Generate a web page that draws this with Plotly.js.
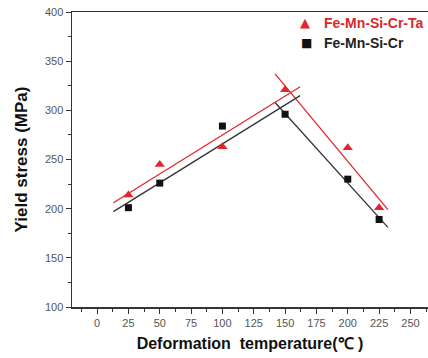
<!DOCTYPE html>
<html><head><meta charset="utf-8">
<script src="https://cdn.plot.ly/plotly-3.0.1.min.js"></script>
<style>html,body{margin:0;padding:0;background:#fff;}#chart{width:428px;height:358px;}</style>
</head><body><div id="chart"></div>
<script>
// Data
const temps = [25, 50, 100, 150, 200, 225];
const yieldTa = [214, 245, 263, 321, 262, 201];   // Fe-Mn-Si-Cr-Ta
const yieldCr = [201, 226, 284, 296, 230, 189];   // Fe-Mn-Si-Cr
// Fit line endpoints
const fitTaUpX = [13, 162],   fitTaUpY = [206, 324];
const fitTaDownX = [142, 232], fitTaDownY = [337, 199];
const fitCrUpX = [13, 162],   fitCrUpY = [197, 315];
const fitCrDownX = [142, 232], fitCrDownY = [308, 181];
const xTicks = [0, 25, 50, 75, 100, 125, 150, 175, 200, 225, 250];
const yTicks = [100, 150, 200, 250, 300, 350, 400];
const seriesNames = ['Fe-Mn-Si-Cr-Ta', 'Fe-Mn-Si-Cr'];

const RED = '#e3262b', BLK = '#111111';
const lineTrace = (x, y, c) => ({x, y, type:'scatter', mode:'lines', line:{color:c, width:1.3}, showlegend:false, hoverinfo:'skip'});
const data = [
  lineTrace(fitTaUpX, fitTaUpY, RED),
  lineTrace(fitTaDownX, fitTaDownY, RED),
  lineTrace(fitCrUpX, fitCrUpY, '#333'),
  lineTrace(fitCrDownX, fitCrDownY, '#333'),
  {x: temps, y: yieldTa, type:'scatter', mode:'markers', name:seriesNames[0], showlegend:false,
   marker:{symbol:'triangle-up', size:9, color:RED}},
  {x: temps, y: yieldCr, type:'scatter', mode:'markers', name:seriesNames[1], showlegend:false,
   marker:{symbol:'square', size:7, color:BLK}}
];
const legendAnn = (txt, x, y, color, size, fam) => ({text:txt, xref:'paper', yref:'paper', x, y,
  xanchor:'left', yanchor:'middle', showarrow:false, font:{size, color, family:fam}});
const W = 356, H = 295; // plot area size in px (for paper coords)
const px = v => (v - 72) / W, py = v => (307 - v) / H;
const layout = {
  width:428, height:358,
  margin:{l:72, r:0, t:12, b:51},
  paper_bgcolor:'#fff', plot_bgcolor:'#fff',
  font:{family:'Arial, "Liberation Sans", sans-serif', color:'#555', size:11},
  showlegend:false,
  annotations:[
    legendAnn('▲', px(298), py(22.5), RED, 13, 'DejaVu Sans'),
    legendAnn('■', px(299), py(42.5), BLK, 12, 'DejaVu Sans'),
    legendAnn('<b>' + seriesNames[0] + '</b>', px(322), py(22.5), '#d8282c', 14, 'Arial, "Liberation Sans"'),
    legendAnn('<b>' + seriesNames[1] + '</b>', px(322), py(42.5), '#222', 14, 'Arial, "Liberation Sans"')
  ],
  xaxis:{range:[-20, 264], tickvals:xTicks, ticktext:xTicks.map(String), showgrid:false, zeroline:false,
         showline:true, linecolor:'#333', linewidth:1.5, mirror:true,
         ticks:'outside', ticklen:5, tickcolor:'#333', tickwidth:1,
         minor:{dtick:12.5, tick0:0, ticks:'outside', ticklen:3, tickcolor:'#333'},
         tickfont:{size:11, color:'#555'},
         title:{text:'<b>Deformation\u00a0\u00a0temperature(℃\u00a0)</b>', font:{size:16, color:'#111'}, standoff:10}},
  yaxis:{range:[100, 400], tickvals:yTicks, ticktext:yTicks.map(String), showgrid:false, zeroline:false,
         showline:true, linecolor:'#333', linewidth:1.5,
         ticks:'outside', ticklen:5, tickcolor:'#333', tickwidth:1,
         minor:{dtick:25, tick0:100, ticks:'outside', ticklen:3, tickcolor:'#333'},
         tickfont:{size:11, color:'#555'},
         title:{text:'<b>Yield stress (MPa)</b>', font:{size:17, color:'#111'}, standoff:13}}
};
Plotly.newPlot('chart', data, layout, {displayModeBar:false, staticPlot:true});
</script></body></html>
